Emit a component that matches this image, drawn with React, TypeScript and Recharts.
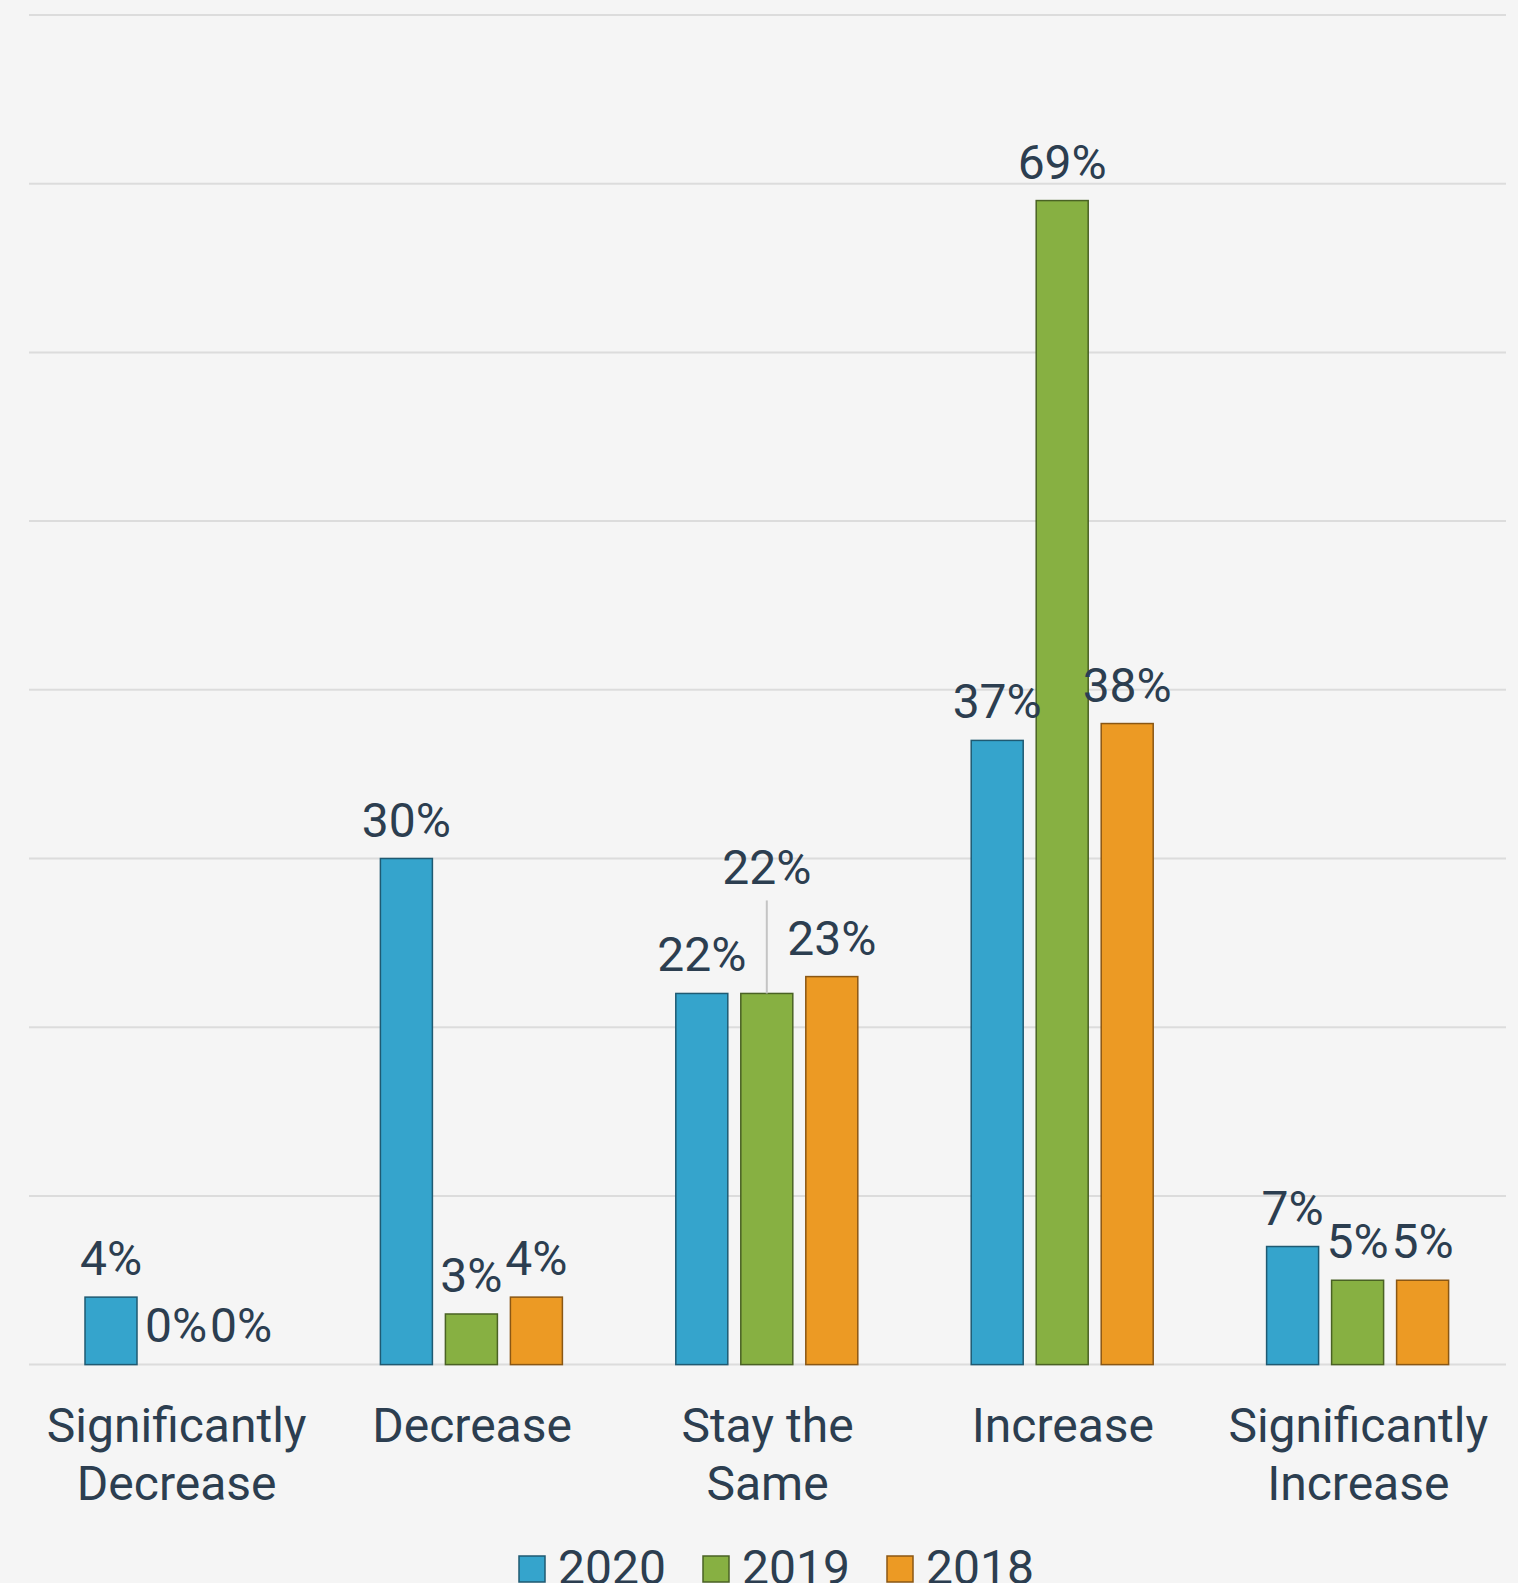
import React from 'react';
import { BarChart, Bar, XAxis, YAxis, CartesianGrid, Legend } from 'recharts';

// Survey answers, percentage of respondents per year
const categories = ['Significantly Decrease', 'Decrease', 'Stay the Same', 'Increase', 'Significantly Increase'];
const tickLines = [['Significantly', 'Decrease'], ['Decrease'], ['Stay the', 'Same'], ['Increase'], ['Significantly', 'Increase']];
const values2020 = [4, 30, 22, 37, 7];
const values2019 = [0, 3, 22, 69, 5];
const values2018 = [0, 4, 23, 38, 5];
const yTicks = [0, 10, 20, 30, 40, 50, 60, 70, 80];

const series = [
  { key: '2020', fill: '#35a4cc', stroke: '#1f5a72' },
  { key: '2019', fill: '#87b042', stroke: '#4a6224' },
  { key: '2018', fill: '#ec9a24', stroke: '#8a5714' },
];

const data = categories.map((name, i) => ({
  name,
  '2020': values2020[i],
  '2019': values2019[i],
  '2018': values2018[i],
}));

const TEXT = '#2c3e50';
const FONT = 'Roboto, "Noto Sans", sans-serif';

// this label collides with its neighbours in the original, so it's lifted with a leader line
const raised = { key: '2019', category: 'Stay the Same', lift: 87 };

const makeLabel = (key: string) => (props: any) => {
  const { x, y, width, value, index } = props;
  const cx = x + width / 2;
  const isRaised = key === raised.key && categories[index] === raised.category;
  const lift = isRaised ? raised.lift : 0;
  const ty = y - 22 - lift;
  return (
    <g>
      {isRaised && <line x1={cx} x2={cx} y1={ty + 16} y2={y} stroke="#c4c4c4" strokeWidth={2} />}
      <text x={cx} y={ty} textAnchor="middle" fill={TEXT} fontSize={48} fontFamily={FONT}>
        {`${value}%`}
      </text>
    </g>
  );
};

// zero values still need a rect so their label is drawn, but nothing visible
const makeShape = (key: string) => (props: any) => {
  const { x, y, width, height, fill, stroke, payload } = props;
  if (!payload || !(payload[key] > 0)) return <g />;
  return <rect x={x} y={y} width={width} height={height} fill={fill} stroke={stroke} strokeWidth={1.5} />;
};

const CategoryTick = (props: any) => {
  const { x, y, index } = props;
  const lines = tickLines[index] || [];
  return (
    <text x={x} y={y} textAnchor="middle" fill={TEXT} fontSize={48} fontFamily={FONT}>
      {lines.map((l, i) => (
        <tspan key={i} x={x} dy={i === 0 ? 69 : 58}>{l}</tspan>
      ))}
    </text>
  );
};

const LegendContent = () => (
  <svg width={1518} height={50} style={{ display: 'block' }}>
    {series.map((s, i) => (
      <g key={s.key}>
        <rect x={519 + i * 184} y={18} width={26} height={26} fill={s.fill} stroke={s.stroke} strokeWidth={1.5} />
        <text x={558 + i * 184} y={46} fill={TEXT} fontSize={48} fontFamily={FONT}>{s.key}</text>
      </g>
    ))}
  </svg>
);

export default function App() {
  return (
    <div style={{ position: 'absolute', left: 0, top: 0, width: 1518, height: 1583, background: '#f5f5f5', overflow: 'hidden' }}>
      <BarChart
        width={1518}
        height={1583}
        data={data}
        margin={{ top: 15, right: 12, left: 29, bottom: 188.4 }}
        barCategoryGap={56}
        barGap={13}
      >
        <CartesianGrid vertical={false} stroke="#dcdcdc" strokeWidth={2} />
        <YAxis hide domain={[0, 80]} ticks={yTicks} />
        <XAxis dataKey="name" axisLine={false} tickLine={false} interval={0} tick={<CategoryTick />} />
        {series.map(s => (
          <Bar
            key={s.key}
            dataKey={s.key}
            fill={s.fill}
            stroke={s.stroke}
            minPointSize={1}
            shape={makeShape(s.key)}
            isAnimationActive={false}
            label={makeLabel(s.key)}
          />
        ))}
        <Legend
          verticalAlign="middle"
          layout="horizontal"
          content={<LegendContent />}
          wrapperStyle={{ top: 1538, left: 0, width: 1518 }}
        />
      </BarChart>
    </div>
  );
}
